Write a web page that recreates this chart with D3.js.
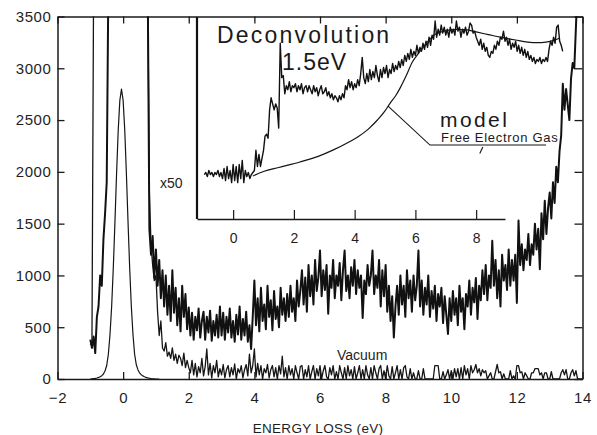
<!DOCTYPE html>
<html>
    <head>
        <title>Energy loss spectrum</title>
        <meta charset="UTF-8">
        <script type="text/javascript" src="https://cdn.jsdelivr.net/npm/d3@7"></script>
        <style type="text/css">
            body { margin: 0; background: #fff; }
            svg { font-family: "Liberation Sans", Arial, Helvetica, sans-serif; }
            .tick text { fill: #1e1e1e; }
        </style>
    </head>
    <body>
        <div id="chart"></div>

        <script type="text/javascript">

            var svgW = 597;
            var svgH = 435;

            // main axes
            var xTicks = [-2, 0, 2, 4, 6, 8, 10, 12, 14];
            var yTicks = [0, 500, 1000, 1500, 2000, 2500, 3000, 3500];
            // inset axis
            var insetTicks = [0, 2, 4, 6, 8];

            // all spectra sampled every 0.05 eV
            var step = 0.05;

            // zero loss peak, x1 (starts at -1.0 eV)
            var peakStart = -1.0;
            var peakCounts = [
                0, 2, 4, 6, 10, 15, 22, 32, 48, 80, 130, 240, 430, 700, 1070, 1510, 1980, 2400, 2690, 2800,
                2690, 2400, 1980, 1510, 1070, 700, 430, 240, 140, 90, 60, 42, 30, 22, 15, 10, 7, 4, 2, 1,
                0, 0, 0];

            // sample spectrum x50 (starts at -1.0 eV), values above 3500 are off scale
            var sampleStart = -1.0;
            var sampleCounts = [
                380, 300, 410, 250, 600, 700, 1000, 900, 1350, 1600, 1900, 3800, 3800, 3800, 3800, 3800, 3800, 3800, 3800, 3800,
                3800, 3800, 3800, 3800, 3800, 3800, 3800, 3800, 3800, 3800, 3800, 3800, 3800, 3800, 3800, 3800, 1450, 1200, 1380, 980,
                1250, 900, 1150, 780, 1050, 700, 1000, 620, 900, 560, 1050, 640, 880, 520, 780, 460, 900, 600, 820, 480,
                690, 420, 640, 380, 600, 470, 680, 400, 560, 650, 380, 600, 450, 660, 370, 560, 420, 620, 400, 700,
                420, 640, 380, 600, 450, 680, 400, 560, 360, 620, 430, 700, 380, 580, 420, 650, 360, 520, 290, 600,
                950, 520, 780, 460, 880, 560, 720, 480, 900, 600, 760, 470, 850, 580, 700, 500, 880, 620, 780, 560,
                820, 600, 900, 650, 780, 560, 950, 700, 850, 1050, 720, 980, 650, 1100, 800, 1000, 720, 1150, 850, 980,
                1240, 800, 1050, 860, 1100, 630, 1000, 880, 1150, 780, 1000, 900, 1120, 760, 1050, 1240, 850, 1000, 780, 1080,
                900, 1150, 820, 1050, 880, 1000, 590, 950, 820, 1100, 900, 1000, 1240, 820, 1000, 880, 1150, 700, 1050, 800,
                1100, 650, 900, 560, 800, 400, 700, 900, 620, 1000, 720, 900, 600, 1050, 780, 950, 650, 1000, 760, 900,
                1240, 700, 950, 620, 880, 720, 1000, 600, 850, 680, 900, 560, 820, 700, 880, 540, 800, 620, 435, 780,
                560, 850, 620, 780, 520, 900, 650, 780, 480, 820, 700, 950, 620, 880, 740, 975, 580, 900, 760, 1050,
                820, 1100, 760, 1000, 880, 1335, 900, 1150, 780, 1050, 700, 1200, 950, 1100, 860, 1250, 900, 1150, 950, 1200,
                735, 1530, 1100, 1300, 1050, 1250, 1150, 1400, 1100, 1300, 1200, 1500, 1250, 1450, 1060, 1600, 1350, 1720, 1400, 1650,
                1800, 1550, 1900, 1700, 2050, 1900, 2200, 2350, 2850, 2600, 2800, 2650, 2500, 2900, 3050, 3000, 3400, 3800];

            // vacuum spectrum x50 (starts at -1.0 eV)
            var vacuumStart = -1.0;
            var vacuumCounts = [
                330, 360, 3800, 3800, 3800, 3800, 3800, 3800, 3800, 3800, 3800, 3800, 3800, 3800, 3800, 3800, 3800, 3800, 3800, 3800,
                3800, 3800, 3800, 3800, 3800, 3800, 3800, 3800, 3800, 3800, 3800, 3800, 3800, 3800, 3800, 3800, 1800, 1300, 1100, 950,
                1000, 650, 420, 560, 300, 270, 350, 220, 260, 200, 300, 180, 240, 150, 230, 200, 130, 250, 110, 180,
                110, 60, 180, 40, 150, 20, 120, 60, 200, 30, 120, 290, 40, 150, 10, 130, 60, 180, 20, 100,
                40, 140, 10, 90, 130, 20, 110, 40, 145, 0, 100, 60, 130, 10, 90, 140, 30, 240, 60, 130,
                290, 20, 150, 40, 130, 0, 100, 60, 140, 10, 90, 130, 20, 110, 0, 130, 50, 220, 20, 110,
                0, 130, 40, 100, 0, 130, 60, 0, 120, 130, 0, 90, 20, 130, 0, 70, 130, 0, 100, 30,
                130, 0, 80, 130, 20, 0, 110, 40, 130, 0, 70, 0, 130, 60, 0, 110, 0, 130, 30, 90,
                0, 120, 0, 60, 130, 0, 90, 0, 130, 40, 0, 110, 0, 130, 60, 0, 100, 130, 0, 80,
                0, 130, 30, 0, 120, 0, 60, 130, 0, 90, 0, 110, 130, 20, 0, 100, 0, 60, 0, 0,
                80, 0, 0, 100, 0, 0, 0, 0, 0, 0, 130, 130, 130, 0, 0, 70, 0, 40, 90, 0,
                80, 0, 100, 20, 100, 0, 110, 0, 130, 40, 100, 0, 130, 60, 90, 140, 60, 100, 30, 90,
                60, 80, 0, 30, 60, 0, 0, 70, 140, 60, 70, 0, 50, 0, 0, 0, 80, 0, 30, 0,
                130, 130, 60, 70, 0, 60, 30, 0, 0, 60, 60, 100, 100, 100, 40, 60, 0, 60, 60, 0,
                0, 70, 0, 0, 0, 0, 0, 60, 90, 40, 90, 0, 0, 60, 90, 30, 80, 0, 0, 0, 0];

            // inset: deconvoluted spectrum (arbitrary units, starts at -0.95 eV)
            var deconvStart = -0.95;
            var deconvValues = [
                22, 23, 21, 24, 22, 23, 21, 23, 22, 24, 21, 23, 20, 25, 19, 26, 20, 24, 18, 27,
                19, 26, 18, 27, 20, 29, 18, 24, 21, 23, 20, 22, 23, 24, 34, 26, 32, 26, 30, 34,
                41, 42, 40, 54, 60, 57, 54, 57, 55, 45, 87, 70, 71, 62, 66, 64, 68, 63, 66, 65,
                67, 63, 66, 64, 67, 62, 65, 66, 63, 66, 64, 62, 66, 63, 65, 61, 64, 66, 62, 63,
                65, 61, 63, 60, 62, 59, 61, 60, 58, 61, 59, 62, 60, 66, 64, 69, 65, 68, 64, 67,
                65, 69, 66, 72, 80, 70, 67, 72, 68, 74, 69, 73, 70, 76, 71, 68, 74, 70, 75, 72,
                76, 70, 74, 72, 77, 73, 76, 74, 78, 75, 79, 76, 81, 78, 82, 79, 84, 80, 83, 81,
                86, 82, 85, 83, 87, 84, 88, 85, 90, 86, 91, 89, 98, 90, 94, 91, 96, 92, 95, 91,
                94, 90, 95, 92, 94, 91, 98, 93, 95, 90, 94, 92, 95, 91, 93, 97, 96, 92, 93, 90,
                88, 86, 89, 84, 87, 83, 85, 81, 80, 83, 82, 86, 84, 88, 86, 90, 89, 93, 88, 90,
                86, 89, 84, 87, 85, 88, 83, 86, 82, 85, 81, 84, 80, 83, 79, 81, 78, 80, 77, 79,
                78, 80, 77, 79, 78, 80, 78, 84, 88, 86, 90, 87, 95, 96, 88, 86, 83];

            // inset: free electron gas model
            var modelEnergy = [0.65, 1.0, 1.5, 2.2, 2.8, 3.3, 3.8, 4.1, 4.45, 4.75, 5.0, 5.17, 5.35, 5.5, 5.7, 5.9, 6.1,
                6.25, 6.45, 6.6, 6.9, 7.14, 7.4, 7.7, 8.0, 8.4, 8.8, 9.3, 9.7, 10.0, 10.3, 10.55, 10.76];
            var modelValues = [21.3, 23.5, 25.5, 28.2, 31, 34.2, 38, 40.6, 44.5, 49, 53.5, 57.4, 61, 64.9, 71, 77.7, 82,
                85, 88.5, 91, 92.8, 93.6, 93.9, 93.6, 92.6, 91.3, 90, 88.6, 87.6, 87.3, 87.6, 88.4, 89.6];

            function toPoints(start, values) {
                return values.map(function (v, i) {
                    return {e: start + i * step, v: v};
                });
            }

            ///////////////////////////////////////////////////////////////
            // scales
            ///////////////////////////////////////////////////////////////
            var x = d3.scaleLinear().domain([-2, 14]).range([57.5, 582.5]);
            var y = d3.scaleLinear().domain([0, 3500]).range([379, 16.5]);

            var ix = d3.scaleLinear().domain([-1.19, 8.95]).range([197, 505]);
            var iy = d3.scaleLinear().domain([0, 100]).range([219, 17]);

            var svg = d3.select("#chart").append("svg")
                    .attr("width", svgW)
                    .attr("height", svgH);

            svg.append("rect").attr("width", svgW).attr("height", svgH).attr("fill", "#fff");

            svg.append("clipPath").attr("id", "plotClip")
                    .append("rect")
                    .attr("x", x(-2)).attr("y", y(3500))
                    .attr("width", x(14) - x(-2)).attr("height", y(0) - y(3500));

            ///////////////////////////////////////////////////////////////
            // axes, ticks inside
            ///////////////////////////////////////////////////////////////
            function styleAxis(g, showText) {
                g.select(".domain").attr("stroke", "#1a1a1a").attr("stroke-width", 1.5);
                g.selectAll(".tick line").attr("stroke", "#1a1a1a").attr("stroke-width", 1.3);
                g.selectAll(".tick text").attr("font-family", null)
                        .style("font-size", "15px").style("letter-spacing", "0.6px");
                if (!showText)
                    g.selectAll(".tick text").remove();
            }

            var fmt = d3.format("d");

            svg.append("g").attr("transform", "translate(0," + y(0) + ")")
                    .call(d3.axisBottom(x).tickValues(xTicks).tickFormat(fmt)
                            .tickSize(-7).tickSizeOuter(0).tickPadding(13))
                    .call(styleAxis, true);
            svg.append("g").attr("transform", "translate(0," + y(3500) + ")")
                    .call(d3.axisTop(x).tickValues(xTicks).tickSize(-7).tickSizeOuter(0))
                    .call(styleAxis, false);
            svg.append("g").attr("transform", "translate(" + x(-2) + ",0)")
                    .call(d3.axisLeft(y).tickValues(yTicks).tickFormat(fmt)
                            .tickSize(-7).tickSizeOuter(0).tickPadding(6))
                    .call(styleAxis, true);
            svg.append("g").attr("transform", "translate(" + x(14) + ",0)")
                    .call(d3.axisRight(y).tickValues(yTicks).tickSize(-8).tickSizeOuter(0))
                    .call(styleAxis, false);

            svg.append("text")
                    .attr("x", 318).attr("y", 433)
                    .attr("text-anchor", "middle")
                    .style("font-size", "13.5px")
                    .style("letter-spacing", "0.3px")
                    .attr("fill", "#1e1e1e")
                    .text("ENERGY LOSS (eV)");

            ///////////////////////////////////////////////////////////////
            // main spectra
            ///////////////////////////////////////////////////////////////
            var line = d3.line()
                    .x(function (d) { return x(d.e); })
                    .y(function (d) { return y(d.v); });

            var plot = svg.append("g").attr("clip-path", "url(#plotClip)");

            plot.append("path")
                    .datum(toPoints(vacuumStart, vacuumCounts))
                    .attr("d", line)
                    .attr("fill", "none")
                    .attr("stroke", "#151515")
                    .attr("stroke-width", 1.3)
                    .attr("stroke-linejoin", "round");

            plot.append("path")
                    .datum(toPoints(sampleStart, sampleCounts))
                    .attr("d", line)
                    .attr("fill", "none")
                    .attr("stroke", "#111")
                    .attr("stroke-width", 2)
                    .attr("stroke-linejoin", "round");

            plot.append("path")
                    .datum(toPoints(peakStart, peakCounts))
                    .attr("d", line)
                    .attr("fill", "none")
                    .attr("stroke", "#151515")
                    .attr("stroke-width", 1.2)
                    .attr("stroke-linejoin", "round");

            svg.append("text")
                    .attr("x", 160).attr("y", 188)
                    .style("font-size", "14px")
                    .attr("fill", "#1e1e1e")
                    .text("x50");

            svg.append("text")
                    .attr("x", 337).attr("y", 360)
                    .style("font-size", "14px")
                    .attr("fill", "#1e1e1e")
                    .text("Vacuum");

            ///////////////////////////////////////////////////////////////
            // inset
            ///////////////////////////////////////////////////////////////
            var inset = svg.append("g");

            inset.append("line")
                    .attr("x1", ix(-1.19)).attr("x2", ix(-1.19))
                    .attr("y1", iy(100)).attr("y2", iy(0))
                    .attr("stroke", "#111").attr("stroke-width", 2.2);

            inset.append("g").attr("transform", "translate(0," + iy(0) + ")")
                    .call(d3.axisBottom(ix).tickValues(insetTicks).tickFormat(fmt)
                            .tickSize(-9).tickSizeOuter(0).tickPadding(14))
                    .call(function (g) {
                        g.select(".domain").attr("stroke", "#1a1a1a").attr("stroke-width", 1.4);
                        g.selectAll(".tick line").attr("stroke", "#1a1a1a").attr("stroke-width", 1.2);
                        g.selectAll(".tick text").attr("font-family", null).style("font-size", "14px");
                    });

            var iline = d3.line()
                    .x(function (d) { return ix(d.e); })
                    .y(function (d) { return iy(d.v); });

            inset.append("path")
                    .datum(toPoints(deconvStart, deconvValues))
                    .attr("d", iline)
                    .attr("fill", "none")
                    .attr("stroke", "#111")
                    .attr("stroke-width", 1.4)
                    .attr("stroke-linejoin", "round");

            inset.append("path")
                    .datum(modelEnergy.map(function (e, i) { return {e: e, v: modelValues[i]}; }))
                    .attr("d", d3.line().curve(d3.curveMonotoneX)
                            .x(function (d) { return ix(d.e); })
                            .y(function (d) { return iy(d.v); }))
                    .attr("fill", "none")
                    .attr("stroke", "#151515")
                    .attr("stroke-width", 1.2);

            // leader from the model curve to its label
            inset.append("polyline")
                    .attr("points", [[5.1, 55.9], [6.48, 36.6], [10.3, 36.6]].map(function (p) {
                        return ix(p[0]) + "," + iy(p[1]);
                    }).join(" "))
                    .attr("fill", "none")
                    .attr("stroke", "#151515")
                    .attr("stroke-width", 1.1);
            inset.append("line")
                    .attr("x1", ix(8.12)).attr("y1", iy(32.4))
                    .attr("x2", ix(8.22)).attr("y2", iy(35.6))
                    .attr("stroke", "#151515")
                    .attr("stroke-width", 1.1);

            inset.append("text")
                    .attr("x", 217).attr("y", 43)
                    .style("font-size", "23px")
                    .style("letter-spacing", "2.2px")
                    .attr("fill", "#1a1a1a")
                    .text("Deconvolution");

            inset.append("text")
                    .attr("x", 282).attr("y", 70)
                    .style("font-size", "23px")
                    .style("letter-spacing", "1px")
                    .attr("fill", "#1a1a1a")
                    .text("1.5eV");

            inset.append("text")
                    .attr("x", 440).attr("y", 127)
                    .style("font-size", "21px")
                    .style("letter-spacing", "2.4px")
                    .attr("fill", "#1a1a1a")
                    .text("model");

            inset.append("text")
                    .attr("x", 441).attr("y", 142)
                    .style("font-size", "13px")
                    .style("letter-spacing", "0.7px")
                    .attr("fill", "#1a1a1a")
                    .text("Free Electron Gas");
        </script>

    </body>
</html>
